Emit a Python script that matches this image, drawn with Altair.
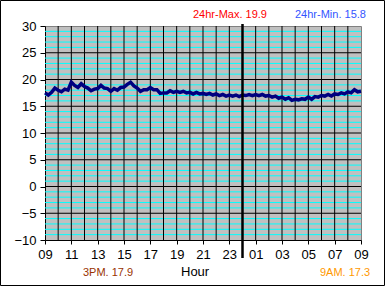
import altair as alt
import pandas as pd

# Time since 09:00 (hours), sampled every 15 minutes
hours = [i * 0.25 for i in range(97)]
temps = [
    17.5, 17.1, 17.6, 18.4, 18.0, 17.7, 18.2, 18.0, 19.5, 18.9, 18.5, 19.2,
    18.7, 18.4, 17.9, 18.2, 18.3, 18.9, 18.4, 18.3, 17.8, 18.3, 18.0, 18.5,
    18.6, 19.1, 19.5, 18.8, 18.4, 17.8, 18.1, 18.1, 18.5, 18.1, 18.1, 17.4,
    17.5, 17.5, 17.9, 17.6, 17.8, 17.6, 17.8, 17.5, 17.6, 17.3, 17.6, 17.3,
    17.4, 17.2, 17.4, 17.1, 17.3, 17.0, 17.2, 16.9, 17.1, 16.9, 17.1, 16.8,
    17.1, 17.0, 17.2, 17.0, 17.2, 17.0, 17.2, 16.9, 17.0, 16.7, 16.9, 16.5,
    16.7, 16.3, 16.6, 16.1, 16.3, 16.2, 16.4, 16.3, 16.7, 16.3, 16.8, 16.7,
    17.0, 16.9, 17.2, 16.9, 17.3, 17.2, 17.5, 17.3, 17.7, 17.5, 18.1, 17.7,
    17.8,
]
tick_labels = ["09", "11", "13", "15", "17", "19", "21", "23", "01", "03", "05", "07", "09"]
max_text = "24hr-Max. 19.9"
min_text = "24hr-Min. 15.8"
pm_text = "3PM. 17.9"
am_text = "9AM. 17.3"
x_title = "Hour"

FONT = "Liberation Sans"
df = pd.DataFrame({"h": hours, "t": temps})

xs = alt.Scale(domain=[0, 24], nice=False, zero=False)
ys = alt.Scale(domain=[-10, 30], nice=False, zero=False)

label_expr = "[" + ",".join("'%s'" % s for s in tick_labels) + "][round(datum.value/2)]"
x_axis = alt.Axis(
    values=list(range(0, 25, 2)), labelExpr=label_expr, title=None, grid=False,
    tickSize=4, tickColor="black", domainColor="black", labelColor="black",
    labelFontSize=13, labelFont=FONT, labelPadding=4, labelFlush=False)
y_axis = alt.Axis(
    values=list(range(-10, 31, 5)), title=None, grid=False,
    tickSize=5, tickColor="black", domainColor="black", labelColor="black",
    labelFontSize=13, labelFont=FONT, labelPadding=4)

vgrid = pd.DataFrame({"h": list(range(1, 24))})
hblack = pd.DataFrame({"t": list(range(-5, 30, 5))})
hcyan = pd.DataFrame({"t": [v for v in range(-9, 30) if v % 5 != 0]})

cyan = alt.Chart(hcyan).mark_rule(color="#00FFFF", strokeWidth=1).encode(
    y=alt.Y("t:Q", scale=ys, axis=y_axis))
blackh = alt.Chart(hblack).mark_rule(color="black", strokeWidth=1).encode(
    y=alt.Y("t:Q", scale=ys, axis=y_axis))
blackv = alt.Chart(vgrid).mark_rule(color="black", strokeWidth=1).encode(
    x=alt.X("h:Q", scale=xs, axis=x_axis))

line = alt.Chart(df).mark_line(color="#000080", strokeWidth=3.5).encode(
    x=alt.X("h:Q", scale=xs, axis=x_axis),
    y=alt.Y("t:Q", scale=ys, axis=y_axis),
)

one = alt.Data(values=[{}])
midnight = alt.Chart(pd.DataFrame({"h": [15]})).mark_rule(color="black", strokeWidth=2.5, clip=False).encode(
    x=alt.X("h:Q", scale=xs, axis=x_axis), y=alt.value(-2), y2=alt.value(232))

def label(txt, x, y, color, size=11):
    return alt.Chart(one).mark_text(text=txt, align="left", baseline="alphabetic",
                                    font=FONT, fontSize=size, color=color).encode(
        x=alt.value(x), y=alt.value(y))

texts = [
    label(max_text, 148, -8, "#FF0000"),
    label(min_text, 250, -8, "#3355FF"),
    label(pm_text, 38, 250, "#993300"),
    label(x_title, 136, 250, "black", 13),
    label(am_text, 275, 250, "#FF9900"),
]

border = alt.Chart(one).mark_rect(fill=None, stroke="black", strokeWidth=1, clip=False).encode(
    x=alt.value(-44.5), x2=alt.value(339.5), y=alt.value(-25.5), y2=alt.value(259.5))

chart = alt.layer(cyan, blackh, blackv, line, midnight, *texts, border).properties(
    width=316, height=214,
    autosize=alt.AutoSizeParams(type="none"),
    padding={"left": 45, "top": 26, "right": 24, "bottom": 46},
    background="white",
).configure_view(stroke="#808080", fill="#C0C0C0", strokeWidth=1)

chart.save("out.html", embed_options={"renderer": "svg", "actions": False})
